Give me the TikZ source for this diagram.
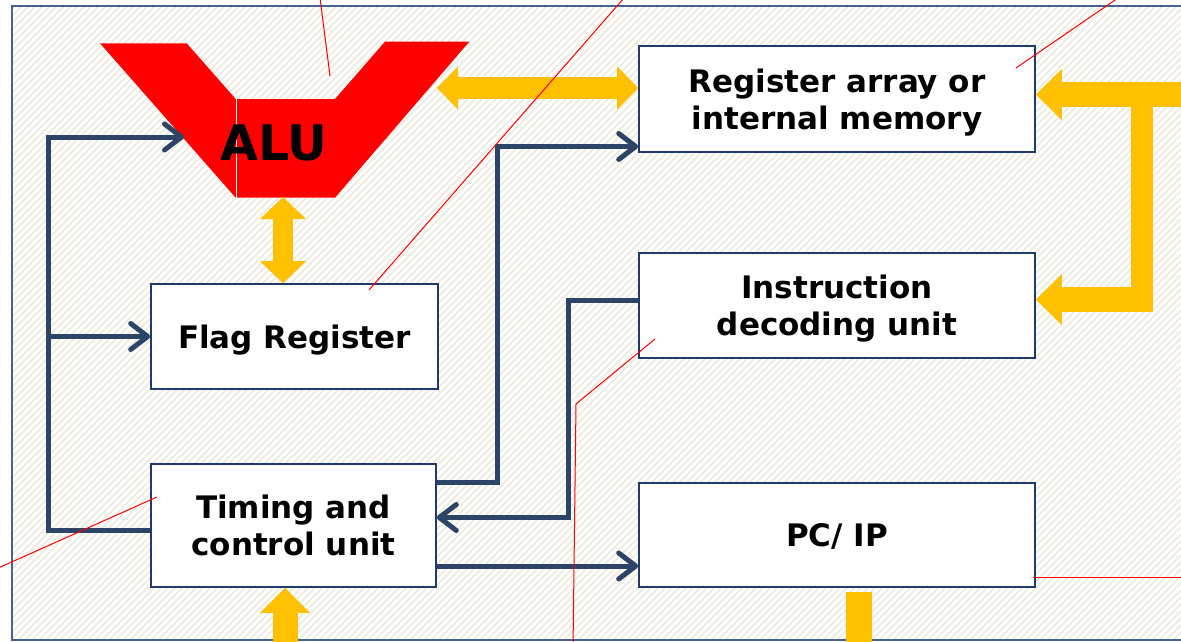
\documentclass[tikz,border=0pt]{standalone}
\usepackage{fontspec}
\setmainfont{DejaVu Sans}
\usetikzlibrary{arrows.meta}

\definecolor{connblue}{HTML}{2C4566}
\definecolor{boxline}{HTML}{1F3A6B}
\definecolor{framecol}{HTML}{44648F}
\definecolor{gold}{HTML}{FFC000}
\definecolor{alured}{HTML}{FF0000}
\definecolor{hatchcol}{HTML}{EDEADD}

\begin{document}
\begin{tikzpicture}[x=1pt,y=-1pt,
  box/.style={draw=boxline, line width=1.6pt, fill=white, inner sep=0pt,
    align=center, text depth=0pt, font=\fontsize{31}{37}\selectfont\bfseries},
  conn/.style={draw=connblue, line width=5pt,
    -{Straight Barb[length=17pt,width=26pt,round]}},
  yarrow/.style={draw=gold},
  leader/.style={draw=alured, line width=1pt},
  hatch/.style={draw=hatchcol, line width=1.6pt}]
\useasboundingbox (0,0) rectangle (1181,642);
\fill[white] (0,0) rectangle (1181,642);

% hatched panel and its frame
\begin{scope}
  \clip (12,6) rectangle (1200,640);
  \foreach \c in {0,7,...,1850} \draw[hatch] (\c,0) -- (\c-660,660);
\end{scope}
\draw[draw=framecol, line width=1.6pt] (1200,6) -- (12,6) -- (12,640) -- (1200,640);

% ALU symbol
\fill[alured] (100,43.3) -- (186.7,43.3) -- (235.7,99) -- (335,99) -- (385,41.7)
  -- (469.3,41.7) -- (335,197.7) -- (235.7,197.7) -- cycle;
\draw[white, line width=0.8pt] (236,99) -- (236,197.7);
\node[font=\fontsize{49}{49}\selectfont\bfseries, inner sep=0pt] (alu) at (274,143) {ALU};
\coordinate (aluin) at (184,137);
\coordinate (alur) at (437,88);
\coordinate (alub) at (283,197);

% blocks
\node[box, minimum width=396pt, minimum height=106pt] (reg) at (837,99) {Register array or\\internal memory};
\node[box, minimum width=396pt, minimum height=105pt] (idu) at (837,305.5) {Instruction\\decoding unit};
\node[box, minimum width=287pt, minimum height=105pt] (flag) at (294.5,336.5) {Flag Register};
\node[box, minimum width=285pt, minimum height=123pt] (tcu) at (293.5,525.5) {Timing and\\control unit};
\node[box, minimum width=396pt, minimum height=104pt] (pc) at (837,535) {PC/ IP};

% control lines
\coordinate (busx) at (48,137);
\draw[conn] ([yshift=-4.5pt]tcu.west) -| (busx) -- (aluin);
\draw[conn] (flag.west -| busx) -- (flag.west);
\draw[conn] ([yshift=43.5pt]tcu.east) -- ++(61,0) |- ([yshift=-47.5pt]reg.west);
\draw[conn] ([yshift=5.5pt]idu.west) -- ++(-70,0) |- ([yshift=8pt]tcu.east);
\coordinate (t3) at ([yshift=-40.5pt]tcu.east);
\draw[conn] (t3) -- (t3 -| pc.west);

% data paths
\draw[yarrow, line width=21.6pt,
  {Triangle[length=21pt,width=43pt,line width=0pt]}-{Triangle[length=21pt,width=43pt,line width=0pt]}]
  (alur) -- (alur -| reg.west);
\draw[yarrow, line width=20pt,
  {Triangle[length=22pt,width=46pt,line width=0pt]}-{Triangle[length=22pt,width=46pt,line width=0pt]}]
  (alub) -- (alub |- flag.north);
\path ([yshift=4.5pt]reg.east) ++(170,0) coordinate (feed);
\draw[yarrow, line width=25pt, -{Triangle[length=26pt,width=51pt,line width=0pt]}]
  (feed) -- ([yshift=4.5pt]reg.east);
\coordinate (bt) at (1142,82);
\coordinate (bb) at (1142,312);
\draw[yarrow, line width=22pt] (bt) -- (bb);
\path ([yshift=6pt]idu.east) ++(116,0) coordinate (tap);
\draw[yarrow, line width=25pt, -{Triangle[length=26pt,width=51pt,line width=0pt]}]
  (tap) -- ([yshift=6pt]idu.east);
\coordinate (tin) at (285,670);
\draw[yarrow, line width=25pt, -{Triangle[length=25pt,width=50pt,line width=0pt]}]
  (tin) -- (tin |- tcu.south);
\draw[yarrow, line width=26pt] ([xshift=22pt,yshift=-4pt]pc.south) -- ++(0,80);

% leader lines
\draw[leader] (320,-2) -- (330,76);
\draw[leader] (624,-2) -- (369,290);
\draw[leader] (1118,-2) -- (1016,68);
\draw[leader] (655,339) -- (576,404) -- (573,650);
\draw[leader] (157,497) -- (-4,569);
\draw[leader] (1033,577.5) -- (1200,577.5);
\end{tikzpicture}
\end{document}
